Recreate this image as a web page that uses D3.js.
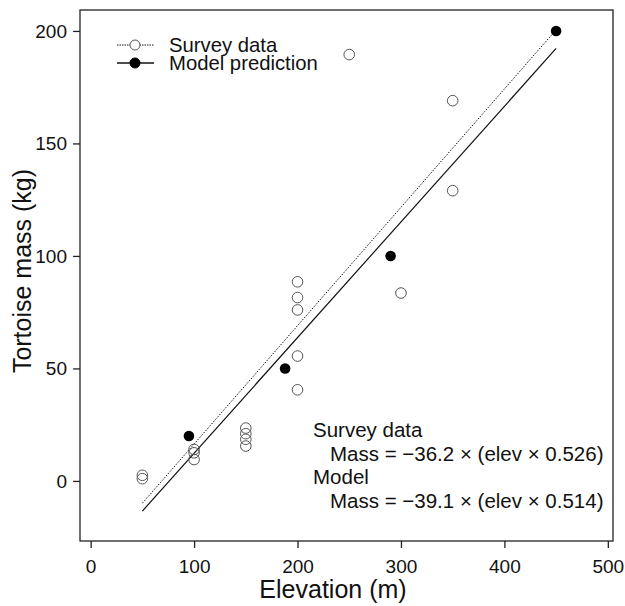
<!DOCTYPE html>
<html>
<head>
<meta charset="utf-8">
<script src="https://cdn.jsdelivr.net/npm/d3@7"></script>
<style>
  body { margin: 0; background: #fff; }
  text { font-family: "Liberation Sans", Arial, sans-serif; fill: #111; }
</style>
</head>
<body>
<div id="chart"></div>
<script>
// survey data (open circles)
var surveyElev = [50, 50, 100, 100, 100, 150, 150, 150, 150, 200, 200, 200, 200, 200, 250, 300, 350, 350];
var surveyMass = [2.5, 1, 14, 12.5, 9.5, 23.5, 21, 18.5, 15.5, 88.5, 81.5, 76, 55.5, 40.5, 189.5, 83.5, 169, 129];

// model prediction (filled circles)
var modelElev = [95, 188, 290, 450];
var modelMass = [20, 50, 100, 200];

// fitted lines: [intercept, slope], drawn over 50..450
var fitNames = ["Survey data", "Model"];
var fitIntercept = [-36.2, -39.1];
var fitSlope = [0.526, 0.514];
var fitRange = [50, 450];

var xTicks = [0, 100, 200, 300, 400, 500];
var yTicks = [0, 50, 100, 150, 200];

var svgWidth = 625;
var svgHeight = 606;

var margin = { top: 10, right: 12, bottom: 65, left: 80 };
var width = svgWidth - margin.left - margin.right;
var height = svgHeight - margin.top - margin.bottom;

var svg = d3.select("#chart")
  .append("svg")
  .attr("width", svgWidth)
  .attr("height", svgHeight);

var chartGroup = svg.append("g")
  .attr("transform", `translate(${margin.left}, ${margin.top})`);

var xScale = d3.scaleLinear()
  .domain([-10.3, 505])
  .range([0, width]);

var yScale = d3.scaleLinear()
  .domain([-26.7, 209.3])
  .range([height, 0]);

// axes
var bottomAxis = d3.axisBottom(xScale).tickValues(xTicks).tickSize(7).tickPadding(12).tickSizeOuter(0);
var leftAxis = d3.axisLeft(yScale).tickValues(yTicks).tickSize(7).tickPadding(6).tickSizeOuter(0);

var gx = chartGroup.append("g")
  .attr("transform", `translate(0, ${height})`)
  .call(bottomAxis);
var gy = chartGroup.append("g")
  .call(leftAxis);

[gx, gy].forEach(function(g) {
  g.select(".domain").remove();
  g.selectAll("line").attr("stroke", "#222").attr("stroke-width", 1.3);
  g.selectAll("text").attr("font-size", 19).attr("fill", "#111")
    .style("font-family", '"Liberation Sans", Arial, sans-serif');
});

// box
chartGroup.append("rect")
  .attr("x", 0).attr("y", 0)
  .attr("width", width).attr("height", height)
  .attr("fill", "none")
  .attr("stroke", "#222")
  .attr("stroke-width", 1.3);

// fitted lines
var dashes = ["1.5,1.5", null];
fitNames.forEach(function(name, i) {
  var line = d3.line()
    .x(d => xScale(d))
    .y(d => yScale(fitIntercept[i] + fitSlope[i] * d));
  chartGroup.append("path")
    .datum(fitRange)
    .attr("d", line)
    .attr("fill", "none")
    .attr("stroke", "#111")
    .attr("stroke-width", i == 0 ? 1 : 1.2)
    .attr("stroke-dasharray", dashes[i]);
});

// survey points
chartGroup.selectAll("circle.survey")
  .data(surveyElev)
  .enter()
  .append("circle")
  .attr("class", "survey")
  .attr("cx", d => xScale(d))
  .attr("cy", (d, i) => yScale(surveyMass[i]))
  .attr("r", 5.3)
  .attr("fill", "none")
  .attr("stroke", "#555")
  .attr("stroke-width", 1);

// model points
chartGroup.selectAll("circle.model")
  .data(modelElev)
  .enter()
  .append("circle")
  .attr("class", "model")
  .attr("cx", d => xScale(d))
  .attr("cy", (d, i) => yScale(modelMass[i]))
  .attr("r", 5.3)
  .attr("fill", "#000");

// legend
var legend = svg.append("g");
var legendItems = ["Survey data", "Model prediction"];
legendItems.forEach(function(name, i) {
  var y = 45 + i * 18;
  legend.append("line")
    .attr("x1", 117).attr("x2", 154)
    .attr("y1", y).attr("y2", y)
    .attr("stroke", "#111")
    .attr("stroke-width", i == 0 ? 1 : 1.5)
    .attr("stroke-dasharray", i == 0 ? "1.5,1" : null);
  legend.append("circle")
    .attr("cx", 135).attr("cy", y)
    .attr("r", 5)
    .attr("fill", i == 0 ? "#fff" : "#000")
    .attr("stroke", i == 0 ? "#555" : "#000");
  legend.append("text")
    .attr("x", 169).attr("y", y + 7)
    .attr("font-size", 20.3)
    .text(name);
});

// equation annotation
var eqLines = [
  { text: "Survey data", x: 313 },
  { text: "Mass = \u221236.2 \u00d7 (elev \u00d7 0.526)", x: 330 },
  { text: "Model", x: 313 },
  { text: "Mass = \u221239.1 \u00d7 (elev \u00d7 0.514)", x: 330 }
];
eqLines.forEach(function(d, i) {
  svg.append("text")
    .attr("x", d.x)
    .attr("y", 437 + i * 23.5)
    .attr("font-size", 20.5)
    .text(d.text);
});

// axis labels
svg.append("text")
  .attr("transform", "translate(31, 271) rotate(-90)")
  .attr("text-anchor", "middle")
  .attr("font-size", 25)
  .text("Tortoise mass (kg)");

svg.append("text")
  .attr("x", 333)
  .attr("y", 598)
  .attr("text-anchor", "middle")
  .attr("font-size", 25)
  .text("Elevation (m)");
</script>
</body>
</html>
